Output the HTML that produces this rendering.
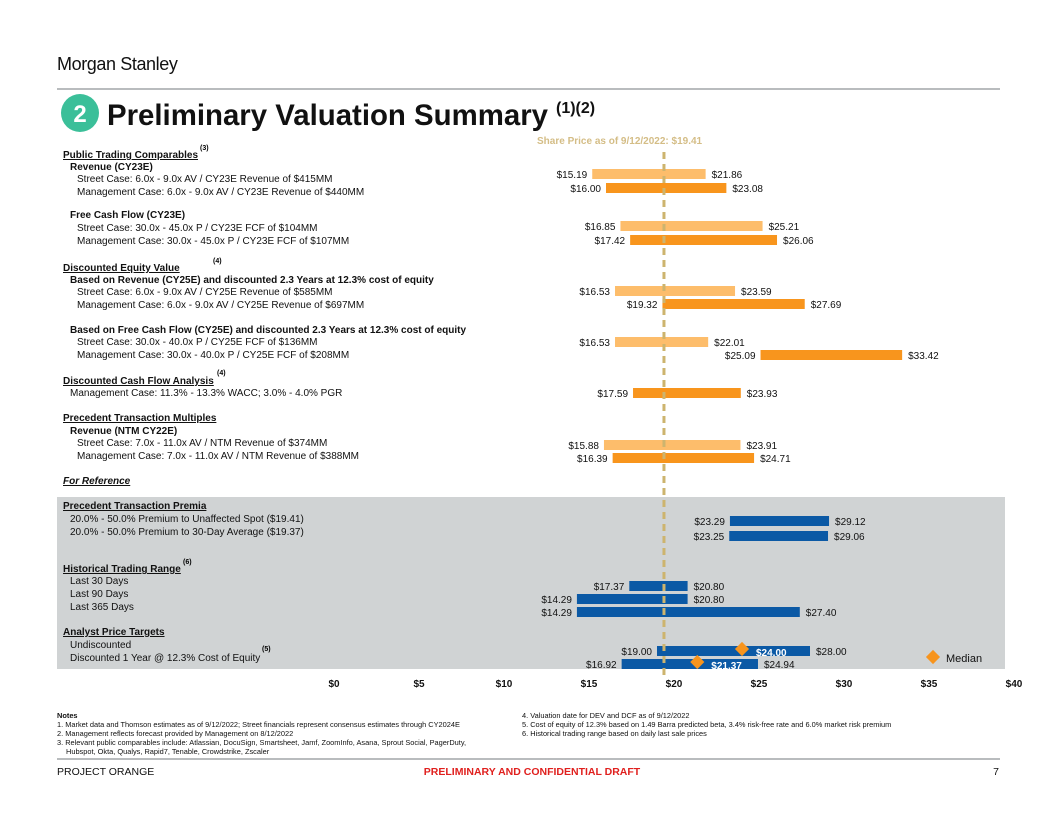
<!DOCTYPE html>
<html><head><meta charset="utf-8"><style>
body{margin:0;background:#fff;}
svg{display:block;font-family:"Liberation Sans",Arial,sans-serif;}
.lb{font-size:10px;fill:#111;}
.b{font-weight:bold;}
.u{text-decoration:underline;}
.v{font-size:10px;fill:#111;}
.n{font-size:7.4px;fill:#111;}
</style></head><body>
<svg id="page" width="1056" height="816" viewBox="0 0 1056 816">
<text x="57" y="70" font-size="18" letter-spacing="-0.4" fill="#111">Morgan Stanley</text>
<line x1="57" y1="89" x2="1000" y2="89" stroke="#b9bcbe" stroke-width="2"/>
<circle cx="80" cy="113" r="19" fill="#3bbf99"/>
<text x="80" y="122" font-size="24" font-weight="bold" fill="#fff" text-anchor="middle">2</text>
<text x="107" y="125" font-size="30" font-weight="bold" fill="#111" textLength="441" lengthAdjust="spacingAndGlyphs">Preliminary Valuation Summary</text>
<text x="556" y="113" font-size="16" font-weight="bold" fill="#111">(1)(2)</text>
<rect x="57" y="497" width="948" height="172" fill="#d0d3d4"/>
<text x="537" y="144" font-size="10" font-weight="bold" fill="#d4bd86">Share Price as of 9/12/2022: $19.41</text>
<g id="labels">
<text x="63" y="158" class="lb b u">Public Trading Comparables</text><text x="200" y="150" font-size="7" font-weight="bold">(3)</text>
<text x="70" y="170" class="lb b">Revenue (CY23E)</text>
<text x="77" y="182" class="lb">Street Case: 6.0x - 9.0x AV /  CY23E Revenue of $415MM</text>
<text x="77" y="195" class="lb">Management Case: 6.0x - 9.0x AV / CY23E Revenue of $440MM</text>
<text x="70" y="218" class="lb b">Free Cash Flow (CY23E)</text>
<text x="77" y="231" class="lb">Street Case: 30.0x - 45.0x P /  CY23E FCF of $104MM</text>
<text x="77" y="244" class="lb">Management Case: 30.0x - 45.0x P / CY23E FCF of $107MM</text>
<text x="63" y="271" class="lb b u">Discounted Equity Value</text><text x="213" y="263" font-size="7" font-weight="bold">(4)</text>
<text x="70" y="283" class="lb b">Based on Revenue (CY25E) and discounted 2.3 Years at 12.3% cost of equity</text>
<text x="77" y="295" class="lb">Street Case: 6.0x - 9.0x AV / CY25E Revenue of $585MM</text>
<text x="77" y="308" class="lb">Management Case: 6.0x - 9.0x AV / CY25E Revenue of $697MM</text>
<text x="70" y="333" class="lb b">Based on Free Cash Flow (CY25E) and discounted 2.3 Years at 12.3% cost of equity</text>
<text x="77" y="345" class="lb">Street Case: 30.0x - 40.0x P / CY25E FCF of $136MM</text>
<text x="77" y="358" class="lb">Management Case: 30.0x - 40.0x P / CY25E FCF of $208MM</text>
<text x="63" y="384" class="lb b u">Discounted Cash Flow Analysis</text><text x="217" y="375" font-size="7" font-weight="bold">(4)</text>
<text x="70" y="396" class="lb">Management Case: 11.3% - 13.3% WACC; 3.0% - 4.0% PGR</text>
<text x="63" y="421" class="lb b u">Precedent Transaction Multiples</text>
<text x="70" y="434" class="lb b">Revenue (NTM CY22E)</text>
<text x="77" y="446" class="lb">Street Case: 7.0x - 11.0x AV /  NTM Revenue of $374MM</text>
<text x="77" y="459" class="lb">Management Case: 7.0x - 11.0x AV /  NTM Revenue of $388MM</text>
<text x="63" y="484" class="lb b u" font-style="italic">For Reference</text>
<text x="63" y="509" class="lb b u">Precedent Transaction Premia</text>
<text x="70" y="522" class="lb">20.0% - 50.0% Premium to Unaffected Spot ($19.41)</text>
<text x="70" y="535" class="lb">20.0% - 50.0% Premium to 30-Day Average ($19.37)</text>
<text x="63" y="572" class="lb b u">Historical Trading Range</text><text x="183" y="564" font-size="7" font-weight="bold">(6)</text>
<text x="70" y="584" class="lb">Last 30 Days</text>
<text x="70" y="597" class="lb">Last 90 Days</text>
<text x="70" y="610" class="lb">Last 365 Days</text>
<text x="63" y="635" class="lb b u">Analyst Price Targets</text>
<text x="70" y="648" class="lb">Undiscounted</text>
<text x="70" y="661" class="lb">Discounted 1 Year @ 12.3% Cost of Equity</text><text x="262" y="651" font-size="7" font-weight="bold">(5)</text>
</g>
<g id="chart"></g>
<g id="legend">
<rect x="928" y="652" width="10" height="10" fill="#f7941d" transform="rotate(45 933 657)"/>
<text x="946" y="662" font-size="11" fill="#111">Median</text>
</g>
<g>
<text x="57" y="718" class="n b">Notes</text>
<text x="57" y="727" class="n">1.  Market data and Thomson estimates as of 9/12/2022; Street financials represent consensus estimates through CY2024E</text>
<text x="57" y="736" class="n">2.  Management reflects forecast provided by Management on 8/12/2022</text>
<text x="57" y="745" class="n">3.  Relevant public comparables include: Atlassian, DocuSign, Smartsheet, Jamf, ZoomInfo, Asana, Sprout Social, PagerDuty,</text>
<text x="66" y="754" class="n">Hubspot, Okta, Qualys, Rapid7, Tenable, Crowdstrike, Zscaler</text>
<text x="522" y="718" class="n">4.  Valuation date for DEV and DCF as of 9/12/2022</text>
<text x="522" y="727" class="n">5.  Cost of equity of 12.3% based on 1.49 Barra predicted beta, 3.4% risk-free rate and 6.0% market risk premium</text>
<text x="522" y="736" class="n">6.  Historical trading range based on daily last sale prices</text>
</g>
<line x1="57" y1="759" x2="1000" y2="759" stroke="#b9bcbe" stroke-width="2"/>
<text x="57" y="775" font-size="10.5" fill="#111">PROJECT ORANGE</text>
<text x="532" y="775" font-size="10.5" font-weight="bold" fill="#e0201e" text-anchor="middle">PRELIMINARY AND CONFIDENTIAL DRAFT</text>
<text x="999" y="775" font-size="10.5" fill="#111" text-anchor="end">7</text>
</svg>
<script>
const lows  = [15.19,16.00,16.85,17.42,16.53,19.32,16.53,25.09,17.59,15.88,16.39,23.29,23.25,17.37,14.29,14.29,19.00,16.92];
const highs = [21.86,23.08,25.21,26.06,23.59,27.69,22.01,33.42,23.93,23.91,24.71,29.12,29.06,20.80,20.80,27.40,28.00,24.94];
const series = ['street','mgmt','street','mgmt','street','mgmt','street','mgmt','mgmt','street','mgmt','blue','blue','blue','blue','blue','blue','blue'];
const medians = [null,null,null,null,null,null,null,null,null,null,null,null,null,null,null,null,24.00,21.37];
const ticks = [0,5,10,15,20,25,30,35,40];
const sharePrice = 19.41;
const rowY = [174,188,226,240,291,304,342,355,393,445,458,521,536,586,599,612,651,664];
const NS='http://www.w3.org/2000/svg';
const g=document.getElementById('chart');
const x=v=>334+v*17;
const colors={street:'#fdbd6b',mgmt:'#f8951d',blue:'#0b59a5'};
function mk(t,a){const e=document.createElementNS(NS,t);for(const k in a)e.setAttribute(k,a[k]);g.appendChild(e);return e;}
const fmt=v=>'$'+v.toFixed(2);
ticks.forEach(t=>{
  const e=mk('text',{x:x(t),y:687,'font-size':10,'font-weight':'bold','text-anchor':'middle',fill:'#111'});
  e.textContent='$'+t;
  
  
});
lows.forEach((lo,i)=>{
  const hi=highs[i], y=rowY[i];
  const r=mk('rect',{x:x(lo),y:y-5,width:x(hi)-x(lo),height:10,fill:colors[series[i]]});
  
  
  const l=mk('text',{x:x(lo)-5,y:y+4,'text-anchor':'end',class:'v'});
  l.textContent=fmt(lo);
  
  
  const h=mk('text',{x:x(hi)+6,y:y+4,class:'v'});
  h.textContent=fmt(hi);
  
  
  if(medians[i]!=null){
    const m=medians[i];
    const mt=mk('text',{x:x(m)+14,y:y+5,class:'v','font-weight':'bold',style:'fill:#fff'});
    mt.textContent=fmt(m);
    
    
    const d=mk('rect',{x:x(m)-5,y:y-5-2,width:10,height:10,fill:'#f7941d',transform:`rotate(45 ${x(m)} ${y-2})`});
    
    
  }
});
const sp=mk('line',{x1:x(sharePrice),y1:152,x2:x(sharePrice),y2:680,stroke:'#cdb46e','stroke-width':3,'stroke-dasharray':'7 5'});


</script>
</body></html>
